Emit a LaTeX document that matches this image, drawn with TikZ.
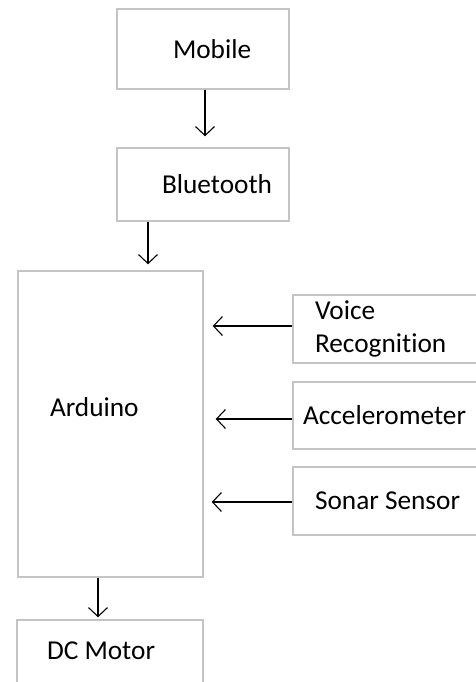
\documentclass[tikz,border=0pt]{standalone}
\usepackage{fontspec}
\setmainfont{Carlito}[Ligatures=NoCommon]
\usetikzlibrary{arrows.meta}
\definecolor{boxline}{HTML}{C4C4C4}
\begin{document}
\begin{tikzpicture}[x=1pt,y=-1pt,
  box/.style={draw=boxline,line width=1.4pt,fill=white,align=flush left,inner ysep=0pt,
    font=\fontsize{27.3}{33}\selectfont},
  flow/.style={line width=1.2pt,-{Straight Barb[length=9pt,width=19pt,line width=1.1pt]}}]
\useasboundingbox (0,0) rectangle (475,682);
\node [box,minimum width=172pt,minimum height=80pt,inner xsep=56pt,text width=60pt] (mobile) at (203,49) {Mobile};
\node [box,minimum width=172pt,minimum height=73pt,inner xsep=45pt,text width=82pt] (bluetooth) at (203,184.5) {Bluetooth};
\node [box,minimum width=185pt,minimum height=306pt,inner xsep=32pt,text width=121pt,text depth=34pt] (arduino) at (110.5,424) {Arduino};
\node [box,minimum width=192pt,minimum height=68pt,inner xsep=22pt,text width=148pt] (voice) at (389,329) {Voice\\Recognition};
\node [box,minimum width=192pt,minimum height=67pt,inner xsep=10pt,text width=172pt] (accel) at (389,415.5) {Accelerometer};
\node [box,minimum width=192pt,minimum height=68pt,inner xsep=22pt,text width=148pt] (sonar) at (389,501) {Sonar Sensor};
\node [box,minimum width=186pt,minimum height=80pt,inner xsep=30pt,text width=126pt,text depth=18pt] (dcmotor) at (110,660) {DC Motor};
\draw [flow,shorten >=11pt] ([xshift=2pt]mobile.south) -- ([xshift=2pt]mobile.south |- bluetooth.north);
\draw [flow,shorten >=6pt] ([xshift=-55pt]bluetooth.south) -- ([xshift=-55pt]bluetooth.south |- arduino.north);
\draw [flow,shorten >=9pt] ([yshift=3pt]voice.west) -- ([yshift=3pt]voice.west -| arduino.east);
\draw [flow,shorten >=12pt] ([yshift=-3.5pt]accel.west) -- ([yshift=-3.5pt]accel.west -| arduino.east);
\draw [flow,shorten >=8pt] ([yshift=-1pt]sonar.west) -- ([yshift=-1pt]sonar.west -| arduino.east);
\draw [flow,shorten >=2pt] ([xshift=-12.5pt]arduino.south) -- ([xshift=-12.5pt]arduino.south |- dcmotor.north);
\end{tikzpicture}
\end{document}
